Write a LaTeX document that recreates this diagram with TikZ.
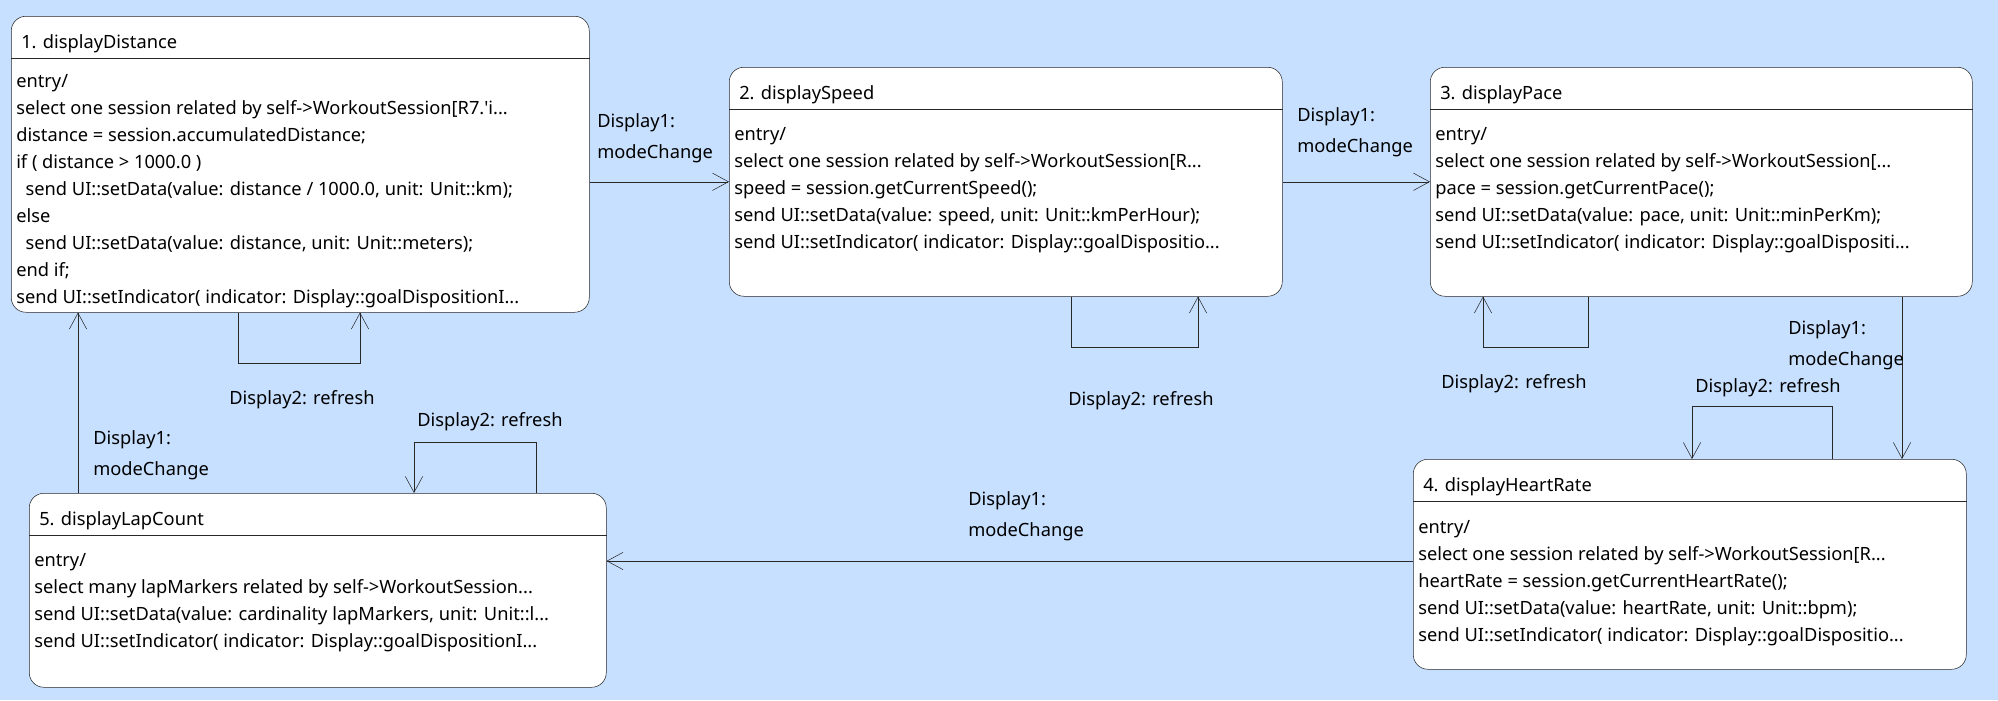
\documentclass[tikz,border=0pt]{standalone}
\usepackage{fontspec}
\newfontfamily\uifont{Noto Sans}
\usetikzlibrary{arrows.meta}
\definecolor{bgblue}{RGB}{199,224,255}
\definecolor{edge}{RGB}{40,40,40}
\begin{document}
\begin{tikzpicture}[
	x=0.75pt, y=-0.75pt,
	font=\uifont\fontsize{13.7}{20.25}\selectfont,
	state/.style={draw=edge, fill=white, rounded corners=11pt, inner sep=0pt, anchor=north west},
	title/.style={anchor=base west, inner sep=0pt},
	body/.style={anchor=north west, inner sep=0pt, align=left},
	lbl/.style={anchor=north west, inner sep=0pt, align=left, font=\uifont\fontsize{13.7}{23.25}\selectfont},
	evt/.style={anchor=base west, inner sep=0pt},
	trans/.style={draw=edge, -{Straight Barb[length=12pt, width=13pt]}}
	]
	\fill[bgblue] (0,0) rectangle (1998,700);

	\node[state, minimum width=578*0.75pt, minimum height=296*0.75pt] (s1) at (11,16) {};
	\node[state, minimum width=553*0.75pt, minimum height=229*0.75pt] (s2) at (729,67) {};
	\node[state, minimum width=542*0.75pt, minimum height=229*0.75pt] (s3) at (1430,67) {};
	\node[state, minimum width=553*0.75pt, minimum height=210*0.75pt] (s4) at (1413,459) {};
	\node[state, minimum width=577*0.75pt, minimum height=194*0.75pt] (s5) at (29,493) {};

	\foreach \s in {s1,s2,s3,s4,s5}
		\draw[edge] ([yshift=-31.5pt]\s.north west) -- ([yshift=-31.5pt]\s.north east);

	\node[title] (t1) at ([xshift=7.5pt, yshift=-24pt]s1.north west) {1. displayDistance};
	\node[title] (t2) at ([xshift=7.5pt, yshift=-24pt]s2.north west) {2. displaySpeed};
	\node[title] (t3) at ([xshift=7.5pt, yshift=-24pt]s3.north west) {3. displayPace};
	\node[title] (t4) at ([xshift=7.5pt, yshift=-24pt]s4.north west) {4. displayHeartRate};
	\node[title] (t5) at ([xshift=7.5pt, yshift=-24pt]s5.north west) {5. displayLapCount};

	\node[body] (b1) at ([xshift=3.75pt, yshift=-39.5pt]s1.north west) {\strut entry/\\
		select one session related by self->WorkoutSession[R7.'i...\\
		distance = session.accumulatedDistance;\\
		if ( distance > 1000.0 )\\
		\hspace{7pt}send UI::setData(value: distance / 1000.0, unit: Unit::km);\\
		else\\
		\hspace{7pt}send UI::setData(value: distance, unit: Unit::meters);\\
		end if;\\
		send UI::setIndicator( indicator: Display::goalDispositionI...};
	\node[body] (b2) at ([xshift=3.75pt, yshift=-41pt]s2.north west) {\strut entry/\\
		select one session related by self->WorkoutSession[R...\\
		speed = session.getCurrentSpeed();\\
		send UI::setData(value: speed, unit: Unit::kmPerHour);\\
		send UI::setIndicator( indicator: Display::goalDispositio...};
	\node[body] (b3) at ([xshift=3.75pt, yshift=-41pt]s3.north west) {\strut entry/\\
		select one session related by self->WorkoutSession[...\\
		pace = session.getCurrentPace();\\
		send UI::setData(value: pace, unit: Unit::minPerKm);\\
		send UI::setIndicator( indicator: Display::goalDispositi...};
	\node[body] (b4) at ([xshift=3.75pt, yshift=-41.5pt]s4.north west) {\strut entry/\\
		select one session related by self->WorkoutSession[R...\\
		heartRate = session.getCurrentHeartRate();\\
		send UI::setData(value: heartRate, unit: Unit::bpm);\\
		send UI::setIndicator( indicator: Display::goalDispositio...};
	\node[body] (b5) at ([xshift=3.75pt, yshift=-41pt]s5.north west) {\strut entry/\\
		select many lapMarkers related by self->WorkoutSession...\\
		send UI::setData(value: cardinality lapMarkers, unit: Unit::l...\\
		send UI::setIndicator( indicator: Display::goalDispositionI...};

	\draw[trans] (s1.east |- s2.west) -- (s2.west);
	\draw[trans] (s2.east |- s3.west) -- (s3.west);
	\draw[trans] (s3.south -| 1902,0) -- (s4.north -| 1902,0);
	\draw[trans] (s4.west |- 0,561) -- (s5.east |- 0,561);
	\draw[trans] (s5.north -| 78,0) -- (s1.south -| 78,0);

	\draw[trans] (s1.south -| 238,0) -- ++(0,51) -| (s1.south -| 360,0);
	\draw[trans] (s2.south -| 1071,0) -- ++(0,51) -| (s2.south -| 1198,0);
	\draw[trans] (s3.south -| 1588,0) -- ++(0,51) -| (s3.south -| 1483,0);
	\draw[trans] (s4.north -| 1832,0) -- ++(0,-53) -| (s4.north -| 1692,0);
	\draw[trans] (s5.north -| 536,0) -- ++(0,-51) -| (s5.north -| 414,0);

	\node[lbl] (m12) at (597,106) {\strut Display1:\\modeChange};
	\node[lbl] (m23) at (1297,100) {\strut Display1:\\modeChange};
	\node[lbl] (m34) at (1788,313) {\strut Display1:\\modeChange};
	\node[lbl] (m45) at (968,484) {\strut Display1:\\modeChange};
	\node[lbl] (m51) at (93,423) {\strut Display1:\\modeChange};

	\node[evt] (r1) at (229,404) {Display2: refresh};
	\node[evt] (r2) at (1068,405) {Display2: refresh};
	\node[evt] (r3) at (1441,388) {Display2: refresh};
	\node[evt] (r4) at (1695,392) {Display2: refresh};
	\node[evt] (r5) at (417,426) {Display2: refresh};
\end{tikzpicture}
\end{document}
